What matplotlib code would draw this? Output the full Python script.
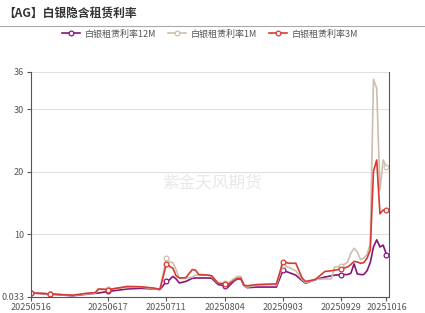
import matplotlib
matplotlib.use("Agg")
import matplotlib.pyplot as plt

plt.rcParams['font.family'] = ['Noto Sans CJK SC', 'DejaVu Sans']

# 数据（按交易日序号）
day_idx = [0, 6, 13, 18, 20, 21, 24, 30, 34, 38, 40, 42, 43, 44, 45, 46, 48, 50, 51, 52,
           55, 56, 58, 60, 61, 63, 64, 65, 66, 67, 70, 75, 76, 78, 80, 82, 84, 85, 88, 91,
           93, 94, 96, 98, 99, 100, 101, 102, 103, 104, 105, 106, 107, 108, 109, 110]
rate_12m = [0.65, 0.5, 0.2, 0.5, 0.6, 0.65, 0.9, 1.3, 1.4, 1.3, 1.2, 2.5, 2.8, 3.3, 2.9, 2.25,
            2.5, 3.0, 3.05, 3.05, 3.05, 3.0, 2.0, 1.8, 1.6, 2.6, 2.9, 2.9, 1.8, 1.5, 1.6, 1.6,
            1.6, 4.25, 3.9, 3.5, 2.6, 2.2, 2.8, 3.2, 3.4, 3.5, 3.6, 3.6, 3.8, 5.3, 3.7, 3.6,
            3.6, 4.2, 5.5, 8.0, 9.15, 8.0, 8.3, 6.8]
rate_1m = [0.7, 0.5, 0.25, 0.55, 0.6, 1.2, 1.25, 1.55, 1.6, 1.35, 1.2, 6.2, 5.6, 5.5, 4.4, 3.0,
           3.0, 3.2, 3.5, 3.5, 3.5, 3.3, 2.2, 2.3, 2.2, 3.0, 3.3, 3.3, 1.8, 1.6, 1.9, 2.0,
           1.9, 5.1, 4.7, 4.2, 2.8, 2.3, 2.8, 2.9, 2.9, 4.8, 4.9, 5.6, 7.0, 7.8, 7.2, 6.0,
           6.2, 6.8, 8.5, 34.8, 33.3, 17.1, 21.9, 20.75]
rate_3m = [0.7, 0.5, 0.3, 0.65, 0.7, 1.3, 1.2, 1.7, 1.65, 1.45, 1.25, 5.3, 4.9, 4.6, 3.4, 3.05,
           3.1, 4.4, 4.3, 3.6, 3.5, 3.4, 2.2, 2.1, 2.0, 2.7, 3.0, 3.0, 1.9, 1.8, 2.0, 2.1,
           2.1, 5.6, 5.4, 5.4, 3.0, 2.5, 2.8, 4.1, 4.2, 4.3, 4.5, 4.8, 5.2, 5.7, 5.6, 5.4,
           5.5, 6.2, 7.5, 20.1, 21.9, 13.3, 13.9, 13.9]

tick_idx = [0, 24, 42, 60, 78, 96, 110]
tick_labels = ['20250516', '20250617', '20250711', '20250804', '20250903', '20250929', '20251016']
marker_idx = [0, 6, 24, 42, 60, 78, 96, 110]

series = [
    ('白银租赁利率12M', rate_12m, '#87157a'),
    ('白银租赁利率1M', rate_1m, '#cdbfae'),
    ('白银租赁利率3M', rate_3m, '#d83a32'),
]

fig = plt.figure(figsize=(4.25, 3.13), dpi=100)
ax = fig.add_axes([0.0718, 0.0515, 0.8435, 0.7195])

marks = [day_idx.index(i) for i in marker_idx]
for name, vals, col in series:
    ax.plot(day_idx, vals, color=col, lw=1.2, label=name,
            marker='o', markevery=marks, markersize=3.4,
            markerfacecolor='white', markeredgecolor=col, markeredgewidth=0.9)

ax.set_xlim(0, 110.8)
ax.set_ylim(0.033, 36)
ax.set_yticks([0.033, 10, 20, 30, 36])
ax.set_yticklabels(['0.033', '10', '20', '30', '36'])
ax.set_xticks(tick_idx)
ax.set_xticklabels(tick_labels)
ax.tick_params(axis='both', labelsize=6.5, colors='#555555', length=3, width=0.8, pad=1.5)
ax.tick_params(axis='x', colors='#555555')

for v in [10, 20, 30, 36]:
    ax.axhline(v, color='#e0e0e0', lw=0.8, zorder=0)

for s in ['left', 'right', 'bottom']:
    ax.spines[s].set_color('#555555')
    ax.spines[s].set_linewidth(0.8)
ax.spines['top'].set_visible(False)

# 标题和分隔线
fig.text(0.008, 0.955, '【AG】白银隐含租赁利率', fontsize=8.5, fontweight='bold',
         color='#333333', va='center', ha='left')
fig.add_artist(plt.Line2D([0, 1], [0.917, 0.917], color='#aaaaaa', lw=0.8))

fig.legend(loc='center', bbox_to_anchor=(0.494, 0.891), ncol=3, frameon=False,
           fontsize=6.5, handlelength=2.0, handletextpad=0.45, columnspacing=1.4,
           labelcolor='#555555')

# 水印
fig.text(0.5, 1 - 182.7 / 313, '紫金天风期货', fontsize=12, color='#e8e8e8',
         ha='center', va='center')

fig.savefig('out.png', dpi=100)
